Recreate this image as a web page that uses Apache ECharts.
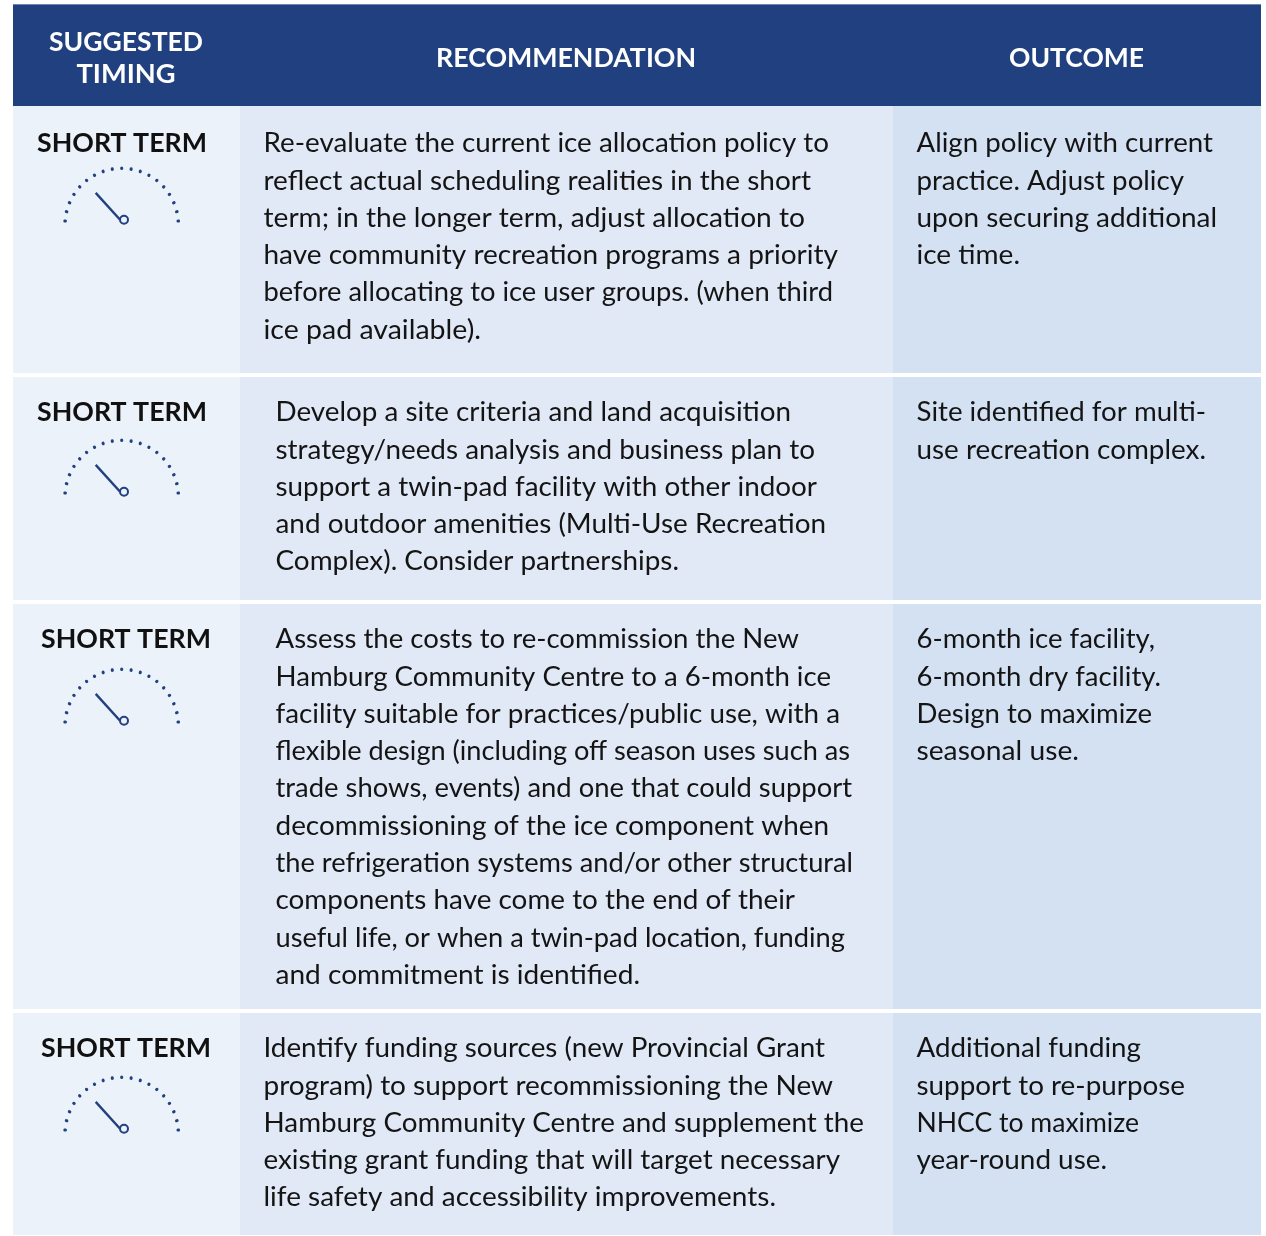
<!DOCTYPE html>
<html>
<head>
<meta charset="utf-8">
<style>
html, body { margin: 0; padding: 0; background: #fff; }
#main { width: 1266px; height: 1236px; }
</style>
<script src="https://cdn.jsdelivr.net/npm/echarts@6/dist/echarts.min.js"></script>
</head>
<body>
<div id="main"></div>
<script>
var headers = [['SUGGESTED', 'TIMING'], ['RECOMMENDATION'], ['OUTCOME']];
var timing = ['SHORT TERM', 'SHORT TERM', 'SHORT TERM', 'SHORT TERM'];
var gaugeValues = [25.5, 25.5, 25.5, 25.5];
var recommendations = [
    ['Re-evaluate the current ice allocation policy to',
     'reflect actual scheduling realities in the short',
     'term; in the longer term, adjust allocation to',
     'have community recreation programs a priority',
     'before allocating to ice user groups. (when third',
     'ice pad available).'],
    ['Develop a site criteria and land acquisition',
     'strategy/needs analysis and business plan to',
     'support a twin-pad facility with other indoor',
     'and outdoor amenities (Multi-Use Recreation',
     'Complex). Consider partnerships.'],
    ['Assess the costs to re-commission the New',
     'Hamburg Community Centre to a 6-month ice',
     'facility suitable for practices/public use, with a',
     'flexible design (including off season uses such as',
     'trade shows, events) and one that could support',
     'decommissioning of the ice component when',
     'the refrigeration systems and/or other structural',
     'components have come to the end of their',
     'useful life, or when a twin-pad location, funding',
     'and commitment is identified.'],
    ['Identify funding sources (new Provincial Grant',
     'program) to support recommissioning the New',
     'Hamburg Community Centre and supplement the',
     'existing grant funding that will target necessary',
     'life safety and accessibility improvements.']
];
var outcomes = [
    ['Align policy with current', 'practice. Adjust policy', 'upon securing additional', 'ice time.'],
    ['Site identified for multi-', 'use recreation complex.'],
    ['6-month ice facility,', '6-month dry facility.', 'Design to maximize', 'seasonal use.'],
    ['Additional funding', 'support to re-purpose', 'NHCC to maximize', 'year-round use.']
];

// table layout
var colX = [13, 240, 893, 1261];
var colFill = ['#ecf2fa', '#e1e8f6', '#d3e1f3'];
var rowY = [[106, 373], [377, 600], [604, 1009], [1013, 1235]];
var firstLine = [143.5, 412.5, 639.5, 1048.5];
var timingX = [122, 122, 126, 126];
var recX = [263.5, 275.5, 275.5, 263.5];
var outX = 916.5;
var gaugeCy = [225, 497, 726, 1134];
var lineStep = 37.3;
// right edge of every text line, the original tracking differs line by line
var recRight = [
    [829, 811, 805, 838, 833, 481],
    [791, 815, 817, 826, 679],
    [799, 831, 840, 850, 852, 829, 853, 795, 845, 640],
    [825, 833, 864, 840, 776]
];
var outRight = [
    [1213, 1184, 1217, 1020],
    [1206, 1206],
    [1155, 1161, 1152, 1079],
    [1141, 1185, 1139, 1107]
];
var FONT = 'Lato, "Open Sans", sans-serif';
var INK = '#141414';
var NAVY = '#20407f';

var measureCtx = document.createElement('canvas').getContext('2d');

function rect(x, y, w, h, fill) {
    return { type: 'rect', silent: true, z: 1, shape: { x: x, y: y, width: w, height: h }, style: { fill: fill } };
}
function label(str, x, y, size, weight, color, align, width) {
    var font = weight + ' ' + size + 'px ' + FONT;
    measureCtx.font = font;
    return {
        type: 'text', silent: true, z: 2, x: x, y: y,
        scaleX: width ? width / measureCtx.measureText(str).width : 1,
        style: { text: str, fill: color, align: align, verticalAlign: 'middle', font: font }
    };
}

var els = [rect(13, 4, 1248, 102, NAVY), rect(13, 4, 1248, 1, '#6f85ad')];
els.push(label(headers[0][0], 126, 42.5, 26, 'bold', '#fff', 'center', 154));
els.push(label(headers[0][1], 126, 74.5, 26, 'bold', '#fff', 'center', 99));
els.push(label(headers[1][0], 566, 58.5, 26, 'bold', '#fff', 'center', 260));
els.push(label(headers[2][0], 1076.5, 58.5, 26, 'bold', '#fff', 'center', 135));

rowY.forEach(function (r, i) {
    for (var c = 0; c < 3; c++) {
        els.push(rect(colX[c], r[0], colX[c + 1] - colX[c], r[1] - r[0], colFill[c]));
    }
    els.push(label(timing[i], timingX[i], firstLine[i], 27, 'bold', '#111', 'center', 170));
    recommendations[i].forEach(function (t, k) {
        els.push(label(t, recX[i], firstLine[i] + k * lineStep, 27, 'normal', INK, 'left', recRight[i][k] - recX[i]));
    });
    outcomes[i].forEach(function (t, k) {
        els.push(label(t, outX, firstLine[i] + k * lineStep, 27, 'normal', INK, 'left', outRight[i][k] - outX));
    });
});

var gauges = gaugeValues.map(function (v, i) {
    return {
        type: 'gauge',
        silent: true,
        z: 5,
        center: [121.7, gaugeCy[i]],
        radius: 57,
        startAngle: 176,
        endAngle: 4,
        min: 0,
        max: 100,
        splitNumber: 18,
        axisLine: { show: false, lineStyle: { width: 0 } },
        axisTick: { show: false },
        axisLabel: { show: false },
        splitLine: { distance: 0, length: 0.6, lineStyle: { color: NAVY, width: 3, cap: 'round' } },
        pointer: { icon: 'rect', width: 2.4, length: 36, offsetCenter: [2.3, -5.3], itemStyle: { color: NAVY } },
        anchor: {
            show: true, showAbove: true, size: 8, offsetCenter: [2.3, -5.3],
            itemStyle: { color: colFill[0], borderColor: NAVY, borderWidth: 2 }
        },
        title: { show: false },
        detail: { show: false },
        data: [{ value: v }]
    };
});

var chart = echarts.init(document.getElementById('main'));
chart.setOption({
    animation: false,
    backgroundColor: '#fff',
    graphic: { elements: els },
    series: gauges
});
</script>
</body>
</html>
